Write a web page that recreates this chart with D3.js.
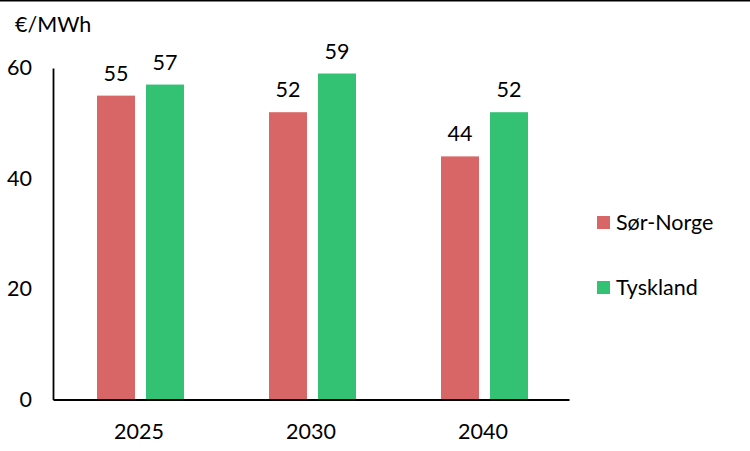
<!DOCTYPE html>
<html><head><meta charset="utf-8">
<script src="https://cdn.jsdelivr.net/npm/d3@7"></script>
<style>body{margin:0;background:#fff}svg{display:block}text{font-family:Lato,"Open Sans",sans-serif;fill:#000}</style>
</head><body>
<svg id="c" width="750" height="451"></svg>
<script>
const categories = ["2025", "2030", "2040"];
const seriesNames = ["Sør-Norge", "Tyskland"];
const sorNorge = [55, 52, 44];
const tyskland = [57, 59, 52];
const yTicks = [0, 20, 40, 60];
const colors = ["#D96666", "#33C173"];
const unitLabel = "€/MWh";

const series = [sorNorge, tyskland];
const svg = d3.select("#c");
const fs = 21.5;
const m = {l: 53, r: 569, t: 68, b: 399.5};

const x = d3.scaleBand().domain(categories).range([m.l, m.r]).paddingOuter(0);
const x1 = d3.scaleBand().domain(seriesNames).range([44, 131]).paddingInner(0.225);
const y = d3.scaleLinear().domain([0, 60]).range([m.b, m.t]);

// top border line
svg.append("line").attr("x1", 0).attr("x2", 750).attr("y1", 0.75).attr("y2", 0.75)
  .attr("stroke", "#000").attr("stroke-width", 1.5);

// unit label
svg.append("text").attr("x", 15).attr("y", 32).style("font-size", fs + "px").text(unitLabel);

// y axis
const yAxis = d3.axisLeft(y).tickValues(yTicks).tickSize(0).tickPadding(21);
const gy = svg.append("g").attr("transform", `translate(${m.l},0)`).call(yAxis);
gy.select(".domain").attr("stroke", "#000").attr("stroke-width", 1.8);
gy.selectAll("text").style("font-size", fs + "px").style("font-family", "Lato").attr("fill", "#000");

// bars
categories.forEach((c, i) => {
  series.forEach((s, j) => {
    svg.append("rect")
      .attr("x", x(c) + x1(seriesNames[j]))
      .attr("y", y(s[i]))
      .attr("width", x1.bandwidth())
      .attr("height", y(0) - y(s[i]))
      .attr("fill", colors[j]);
    svg.append("text")
      .attr("x", x(c) + x1(seriesNames[j]) + x1.bandwidth() / 2)
      .attr("y", y(s[i]) - 15)
      .attr("text-anchor", "middle")
      .style("font-size", fs + "px")
      .text(d3.format(".0f")(s[i]));
  });
});

// x axis
const xAxis = d3.axisBottom(x).tickSize(0).tickPadding(24);
const gx = svg.append("g").attr("transform", `translate(0,${m.b})`).call(xAxis);
gx.select(".domain").attr("stroke", "#000").attr("stroke-width", 2);
gx.selectAll("text").style("font-size", fs + "px").style("font-family", "Lato").attr("fill", "#000");

// legend
const leg = svg.append("g");
seriesNames.forEach((n, j) => {
  const yy = 216 + j * 65;
  leg.append("rect").attr("x", 597).attr("y", yy).attr("width", 13).attr("height", 13).attr("fill", colors[j]);
  leg.append("text").attr("x", 616).attr("y", yy + 14).style("font-size", fs + "px").text(n);
});
</script>
</body></html>
